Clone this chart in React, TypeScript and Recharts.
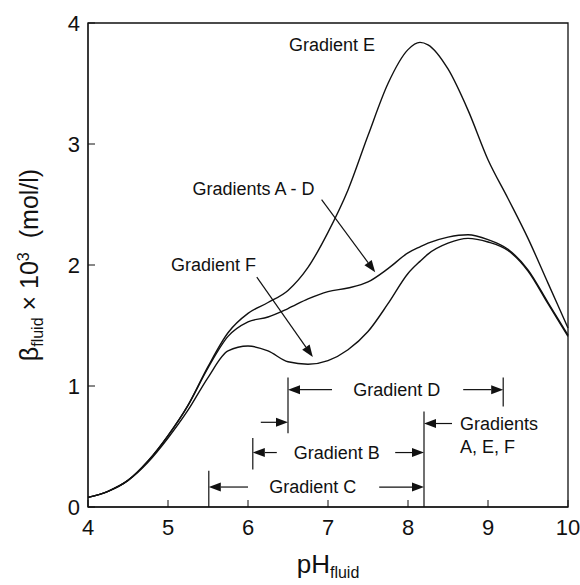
import React from "react"
import { LineChart, Line, XAxis, YAxis, ReferenceLine, ReferenceDot, ReferenceArea } from "recharts"

const ph = [4, 4.25, 4.5, 4.75, 5, 5.25, 5.5, 5.75, 6, 6.25, 6.5, 6.75, 7, 7.25, 7.5, 7.75, 8, 8.15, 8.25, 8.5, 8.75, 9, 9.25, 9.5, 9.75, 10]
const gradientE = [0.08, 0.13, 0.22, 0.38, 0.59, 0.84, 1.16, 1.44, 1.6, 1.69, 1.79, 1.98, 2.27, 2.62, 3.07, 3.5, 3.78, 3.84, 3.82, 3.62, 3.28, 2.87, 2.55, 2.22, 1.85, 1.48]
const gradientsAD = [0.08, 0.13, 0.22, 0.38, 0.59, 0.84, 1.15, 1.41, 1.53, 1.57, 1.64, 1.72, 1.78, 1.81, 1.86, 1.97, 2.1, 2.15, 2.18, 2.23, 2.25, 2.21, 2.13, 1.96, 1.69, 1.42]
const gradientF = [0.08, 0.13, 0.22, 0.37, 0.57, 0.8, 1.07, 1.29, 1.33, 1.29, 1.2, 1.18, 1.21, 1.3, 1.45, 1.68, 1.93, 2.03, 2.09, 2.18, 2.22, 2.19, 2.12, 1.95, 1.68, 1.41]
const xTicks = [4, 5, 6, 7, 8, 9, 10]
const yTicks = [0, 1, 2, 3, 4]

const data = ph.map((p, i) => ({ ph: p, e: gradientE[i], ad: gradientsAD[i], f: gradientF[i] }))

const FONT = "'Liberation Sans', Arial, sans-serif"
const INK = "#111"

// line with a filled arrowhead at the second point
const Arrow = (props: any) => {
  const { x1, y1, x2, y2 } = props
  const dx = x2 - x1
  const dy = y2 - y1
  const len = Math.sqrt(dx * dx + dy * dy) || 1
  const ux = dx / len
  const uy = dy / len
  const bx = x2 - ux * 12
  const by = y2 - uy * 12
  const pts = `${x2},${y2} ${bx - uy * 4.5},${by + ux * 4.5} ${bx + uy * 4.5},${by - ux * 4.5}`
  return (
    <g>
      <line x1={x1} y1={y1} x2={bx} y2={by} stroke={INK} strokeWidth={1.2} />
      <polygon points={pts} fill={INK} />
    </g>
  )
}

const note = (text: string, anchor: "middle" | "start" = "middle") => (props: any) => (
  <text x={props.cx} y={props.cy} textAnchor={anchor} dominantBaseline="central" fontSize={18} fontFamily={FONT} fill={INK}>
    {text}
  </text>
)

const YLabel = (props: any) => {
  const { viewBox } = props
  const cy = viewBox.y + viewBox.height / 2
  return (
    <text transform={`translate(38, ${cy}) rotate(-90)`} textAnchor="middle" fontSize={25} fontFamily={FONT} fill={INK}>
      <tspan>β</tspan>
      <tspan fontSize={16} dy={5}>fluid</tspan>
      <tspan dy={-5}> × 10</tspan>
      <tspan fontSize={16} dy={-9}>3</tspan>
      <tspan dy={9} dx={14}>(mol/l)</tspan>
    </text>
  )
}

const XLabel = (props: any) => {
  const { viewBox } = props
  const cx = viewBox.x + viewBox.width / 2
  return (
    <text x={cx} y={viewBox.y + 66} textAnchor="middle" fontSize={26} fontFamily={FONT} fill={INK}>
      <tspan>pH</tspan>
      <tspan fontSize={16} dy={5}>fluid</tspan>
    </text>
  )
}

const arrow = (x1: number, y1: number, x2: number, y2: number) => (
  <ReferenceLine segment={[{ x: x1, y: y1 }, { x: x2, y: y2 }]} shape={Arrow} ifOverflow="visible" />
)

const bar = (x: number, y1: number, y2: number) => (
  <ReferenceLine segment={[{ x, y: y1 }, { x, y: y2 }]} stroke={INK} strokeWidth={1.2} ifOverflow="visible" />
)

export default function App() {
  return (
    <div style={{ position: "absolute", left: 0, top: 0, background: "#fff" }}>
      <LineChart width={580} height={585} data={data} margin={{ top: 23, right: 12, bottom: 0, left: 0 }}>
        <XAxis
          dataKey="ph"
          type="number"
          domain={[4, 10]}
          ticks={xTicks}
          tickSize={-7}
          tickMargin={19}
          height={78}
          stroke={INK}
          tick={{ fontSize: 22, fill: INK, fontFamily: FONT }}
          label={<XLabel />}
        />
        <YAxis
          type="number"
          domain={[0, 4]}
          ticks={yTicks}
          tickSize={-7}
          tickMargin={15}
          width={88}
          stroke={INK}
          tick={{ fontSize: 22, fill: INK, fontFamily: FONT }}
          label={<YLabel />}
        />
        <ReferenceArea x1={4} x2={10} y1={0} y2={4} fill="none" stroke={INK} strokeWidth={1.3} />
        <Line dataKey="e" type="monotone" stroke={INK} strokeWidth={1.4} dot={false} isAnimationActive={false} />
        <Line dataKey="ad" type="monotone" stroke={INK} strokeWidth={1.4} dot={false} isAnimationActive={false} />
        <Line dataKey="f" type="monotone" stroke={INK} strokeWidth={1.4} dot={false} isAnimationActive={false} />

        {bar(6.5, 0.61, 1.07)}
        {bar(9.19, 0.83, 1.07)}
        {bar(8.2, 0, 0.79)}
        {bar(6.06, 0.31, 0.57)}
        {bar(5.51, 0, 0.3)}

        {arrow(6.92, 2.54, 7.59, 1.94)}
        {arrow(6.11, 1.9, 6.81, 1.24)}
        {arrow(7.05, 0.97, 6.5, 0.97)}
        {arrow(8.69, 0.97, 9.19, 0.97)}
        {arrow(6.16, 0.7, 6.5, 0.7)}
        {arrow(8.55, 0.69, 8.2, 0.69)}
        {arrow(6.36, 0.45, 6.06, 0.45)}
        {arrow(7.84, 0.45, 8.2, 0.45)}
        {arrow(6.0, 0.165, 5.51, 0.165)}
        {arrow(7.64, 0.165, 8.2, 0.165)}

        <ReferenceDot x={7.05} y={3.82} shape={note("Gradient E")} />
        <ReferenceDot x={6.07} y={2.63} shape={note("Gradients A - D")} />
        <ReferenceDot x={5.57} y={2.0} shape={note("Gradient F")} />
        <ReferenceDot x={7.86} y={0.97} shape={note("Gradient D")} />
        <ReferenceDot x={7.11} y={0.45} shape={note("Gradient B")} />
        <ReferenceDot x={6.81} y={0.165} shape={note("Gradient C")} />
        <ReferenceDot x={8.65} y={0.69} shape={note("Gradients", "start")} />
        <ReferenceDot x={8.65} y={0.5} shape={note("A, E, F", "start")} />
      </LineChart>
    </div>
  )
}
